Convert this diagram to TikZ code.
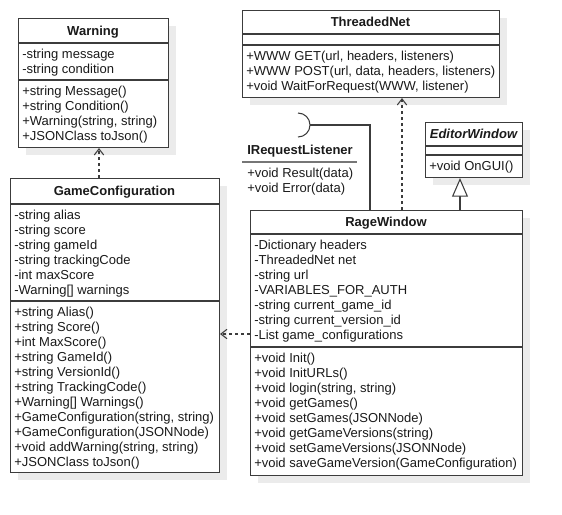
\documentclass[tikz,border=0pt]{standalone}
\usepackage{fontspec}
\setmainfont{Liberation Sans}
\usetikzlibrary{arrows.meta,shadows}
\definecolor{ln}{HTML}{3C3C3C}
\definecolor{tx}{HTML}{1A1A1A}
\begin{document}
\begin{tikzpicture}[x=0.75pt,y=-0.75pt,
  box/.style={draw=ln, line width=0.8pt, fill=white, anchor=north west, inner sep=0pt,
    general shadow={fill=black!8, shadow xshift=5.25pt, shadow yshift=-5.25pt}},
  sz/.style 2 args={minimum width=#1*0.75pt, minimum height=#2*0.75pt},
  sepl/.style={draw=ln, line width=0.8pt},
  txt/.style={anchor=base west, inner sep=0pt, text=tx, font=\fontsize{9.75pt}{11pt}\selectfont},
  ttl/.style={anchor=base, inner sep=0pt, text=tx, font=\fontsize{9.75pt}{11pt}\selectfont\bfseries},
  dep/.style={draw=ln, line width=0.8pt, dash pattern=on 2.25pt off 2.25pt,
    -{Straight Barb[length=4.5pt,width=7pt]}},
  inh/.style={draw=ln, line width=0.8pt, -{Triangle[open,length=14pt,width=12pt,fill=white]}},
  conn/.style={draw=ln, line width=0.8pt},
]
\useasboundingbox (0,0) rectangle (562,515);

% ---------- Warning ----------
\node[box, sz={150}{129}] (warning) at (18,18) {};
\draw[sepl] (18,43) -- (168,43);
\draw[sepl] (18,80) -- (168,80);
\node[ttl] (warningT) at (93,35) {Warning};
\foreach \t [count=\i from 0] in {-string message,-string condition}
  \node[txt] (wa\i) at (22,58+15*\i) {\t};
\foreach \t [count=\i from 0] in {+string Message(),+string Condition(),{+Warning(string, string)},+JSONClass toJson()}
  \node[txt] (wm\i) at (22,95+15*\i) {\t};

% ---------- GameConfiguration ----------
\node[box, sz={209}{294}] (gc) at (10,178) {};
\draw[sepl] (10,204) -- (219,204);
\draw[sepl] (10,301) -- (219,301);
\node[ttl] (gcT) at (114.5,195) {GameConfiguration};
\foreach \t [count=\i from 0] in {-string alias,-string score,-string gameId,-string trackingCode,-int maxScore,{-Warning[] warnings}}
  \node[txt] (ga\i) at (14,219+15*\i) {\t};
\foreach \t [count=\i from 0] in {+string Alias(),+string Score(),+int MaxScore(),+string GameId(),+string VersionId(),+string TrackingCode(),{+Warning[] Warnings()},{+GameConfiguration(string, string)},+GameConfiguration(JSONNode),{+void addWarning(string, string)},+JSONClass toJson()}
  \node[txt] (gm\i) at (14,316+15*\i) {\t};

% ---------- ThreadedNet ----------
\node[box, sz={257}{87}] (tn) at (242,10) {};
\draw[sepl] (242,34) -- (499,34);
\draw[sepl] (242,45) -- (499,45);
\node[ttl] (tnT) at (370.5,26) {ThreadedNet};
\foreach \t [count=\i from 0] in {{+WWW GET(url, headers, listeners)},{+WWW POST(url, data, headers, listeners)},{+void WaitForRequest(WWW, listener)}}
  \node[txt] (tm\i) at (246,60+15*\i) {\t};

% ---------- EditorWindow ----------
\node[box, sz={97}{55}] (ew) at (425,122) {};
\draw[sepl] (425,146) -- (522,146);
\draw[sepl] (425,155) -- (522,155);
\node[ttl, font=\fontsize{9.75pt}{11pt}\selectfont\bfseries\itshape] (ewT) at (473.5,138) {EditorWindow};
\node[txt] (em0) at (429,170) {+void OnGUI()};

% ---------- RageWindow ----------
\node[box, sz={272}{265}] (rage) at (250,210) {};
\draw[sepl] (250,234) -- (522,234);
\draw[sepl] (250,347) -- (522,347);
\node[ttl] (rageT) at (386,226) {RageWindow};
\foreach \t [count=\i from 0] in {-Dictionary headers,-ThreadedNet net,-string url,-VARIABLES\_FOR\_AUTH,-string current\_game\_id,-string current\_version\_id,-List game\_configurations}
  \node[txt] (ra\i) at (254,249+15*\i) {\t};
\foreach \t [count=\i from 0] in {+void Init(),+void InitURLs(),{+void login(string, string)},+void getGames(),+void setGames(JSONNode),+void getGameVersions(string),+void setGameVersions(JSONNode),+void saveGameVersion(GameConfiguration)}
  \node[txt] (rm\i) at (254,362+15*\i) {\t};

% ---------- IRequestListener (interface) ----------
\node[ttl, anchor=base west] (irT) at (247,154) {IRequestListener};
\draw[conn, draw=ln!70] (242,162) -- (357,162);
\node[txt] (ir0) at (247,177) {+void Result(data)};
\node[txt] (ir1) at (247,192) {+void Error(data)};
\draw[conn] (298,113) arc[start angle=90, end angle=-90, radius=9pt];
\coordinate (ireq) at (310,125);
\coordinate (bend) at (370,125);

% ---------- connectors ----------
\coordinate (x1) at (99,0);
\coordinate (x2) at (402,0);
\coordinate (x3) at (460,0);
\coordinate (y1) at (0,334);
\draw[dep] (gc.north -| x1) -- (warning.south -| x1);
\draw[dep] (rage.north -| x2) -- (tn.south -| x2);
\draw[dep] (rage.west |- y1) -- (gc.east |- y1);
\draw[inh] (rage.north -| x3) -- (ew.south -| x3);
\draw[conn] (rage.north -| bend) -- (bend) -- (ireq);
\end{tikzpicture}
\end{document}
